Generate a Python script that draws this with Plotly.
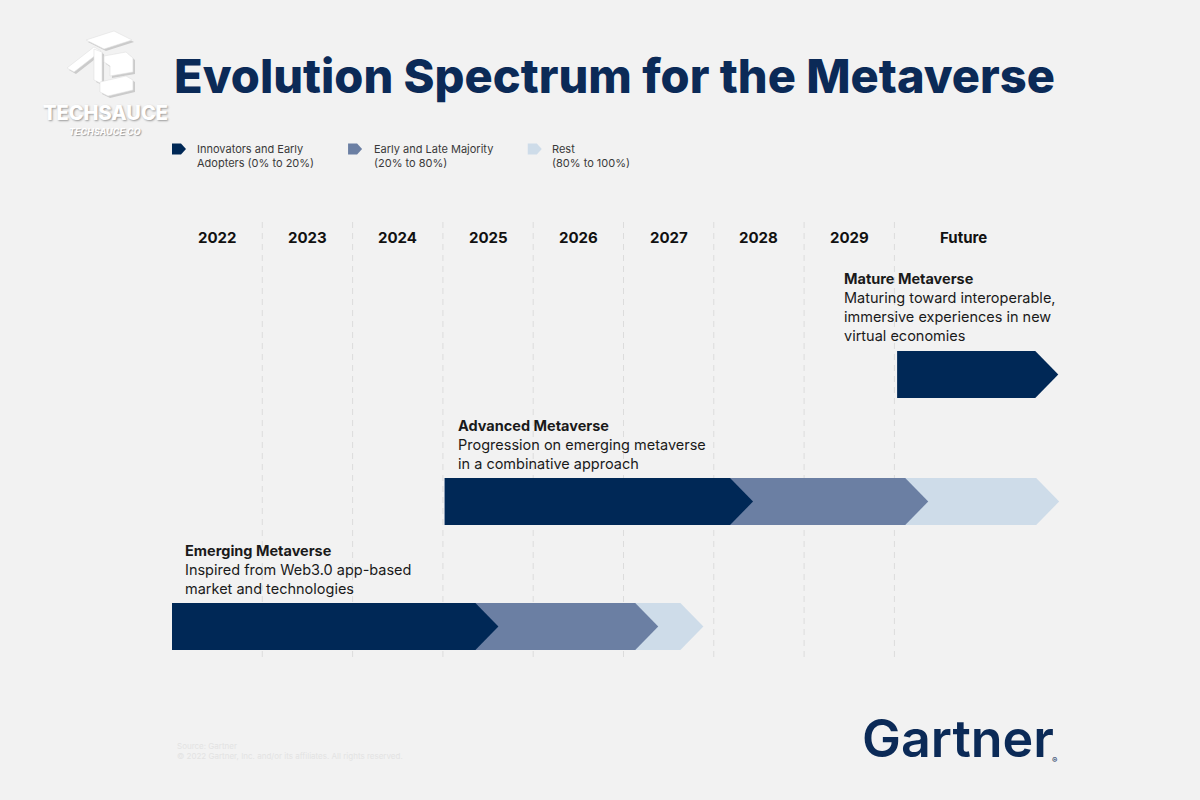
import plotly.graph_objects as go

# ---------------- data ----------------
year_labels = ["2022", "2023", "2024", "2025", "2026", "2027", "2028", "2029", "Future"]
year_centers = [2022.5, 2023.5, 2024.5, 2025.5, 2026.5, 2027.5, 2028.5, 2029.5, 2030.77]
divider_years = [2023, 2024, 2025, 2026, 2027, 2028, 2029, 2030]

stage_names = ["Emerging Metaverse", "Advanced Metaverse", "Mature Metaverse"]
stage_desc = [
    ["Inspired from Web3.0 app-based", "market and technologies"],
    ["Progression on emerging metaverse", "in a combinative approach"],
    ["Maturing toward interoperable,", "immersive experiences in new", "virtual economies"],
]
stage_start = [2022.0, 2025.02, 2030.03]
innovators_end = [2025.36, 2028.18, 2031.56]
majority_end = [2027.13, 2030.12, None]
rest_end = [2027.63, 2031.57, None]

legend_labels = ["Innovators and Early<br>Adopters (0% to 20%)",
                 "Early and Late Majority<br>(20% to 80%)",
                 "Rest<br>(80% to 100%)"]

# ---------------- style / layout ----------------
BG = "#f2f2f2"
DARK = "#002856"
MID = "#6b7fa3"
LIGHT = "#cedce9"
seg_colors = [DARK, MID, LIGHT]

X0_PX, UNIT_PX = 172.0, 90.3          # px position of 2022 and px per year
X_RANGE = [2022 - X0_PX / UNIT_PX, 2022 + (1200 - X0_PX) / UNIT_PX]
row_y = [626.5, 501.5, 374.5]           # vertical centre of each stage row
BAR_H = 47
TIP = 23 / UNIT_PX
text_pos = [(2022.12, 569.5), (2025.145, 444), (2029.42, 306.5)]
FONT = "Inter"


def chevron(x0, x1, yc, h, tip):
    xs = [x0, x1, x1 + tip, x1, x0, x0]
    ys = [yc - h / 2, yc - h / 2, yc, yc + h / 2, yc + h / 2, yc - h / 2]
    return xs, ys


fig = go.Figure()

# dashed column dividers
for xv in divider_years:
    fig.add_trace(go.Scatter(x=[xv, xv], y=[222, 662], mode="lines",
                             line=dict(color="#dcdcdc", width=1, dash="6px,5px"),
                             hoverinfo="skip", showlegend=False))

# stage chevrons (light at back, dark on top)
for i in range(3):
    ends = [innovators_end[i], majority_end[i], rest_end[i]]
    for k in (2, 1, 0):
        if ends[k] is None:
            continue
        xs, ys = chevron(stage_start[i], ends[k], row_y[i], BAR_H, TIP)
        fig.add_trace(go.Scatter(x=xs, y=ys, mode="lines", fill="toself",
                                 fillcolor=seg_colors[k], line=dict(width=0, color=seg_colors[k]),
                                 hoverinfo="skip", showlegend=False))

# legend icons
legend_icon_x = [2022.0, 2023.95, 2025.94]
legend_text_x = [2022.26, 2024.22, 2026.19]
for k in range(3):
    xs, ys = chevron(legend_icon_x[k], legend_icon_x[k] + 9 / UNIT_PX, 149, 11, 5 / UNIT_PX)
    fig.add_trace(go.Scatter(x=xs, y=ys, mode="lines", fill="toself",
                             fillcolor=seg_colors[k], line=dict(width=0, color=seg_colors[k]),
                             hoverinfo="skip", showlegend=False))
    fig.add_annotation(x=legend_text_x[k], y=156, xref="x", yref="y", text=legend_labels[k],
                       showarrow=False, xanchor="left", yanchor="middle", align="left",
                       font=dict(family=FONT, size=11, color="#3a3a3a"))

# year headers
for lab, xc in zip(year_labels, year_centers):
    fig.add_annotation(x=xc, y=237, xref="x", yref="y", text=lab, showarrow=False,
                       xanchor="center", yanchor="middle",
                       font=dict(family=FONT, size=15, color="#111111", weight=700))

# stage texts
for i in range(3):
    txt = "<b>" + stage_names[i] + "</b><br>" + "<br>".join(stage_desc[i])
    fig.add_annotation(x=text_pos[i][0], y=text_pos[i][1], xref="x", yref="y", text=txt,
                       showarrow=False, xanchor="left", yanchor="middle", align="left",
                       font=dict(family=FONT, size=14.5, color="#1a1a1a"))

# title
fig.add_annotation(x=2022.0, y=75, xref="x", yref="y", text="Evolution Spectrum for the Metaverse",
                   showarrow=False, xanchor="left", yanchor="middle",
                   font=dict(family=FONT, size=47, color="#0b2a57", weight=800))

# Gartner logo text
fig.add_annotation(x=860 / 1200, y=1 - 738 / 800, xref="paper", yref="paper", text="Gartner",
                   showarrow=False, xanchor="left", yanchor="middle",
                   font=dict(family=FONT, size=52, color="#0b2a57", weight=600))
fig.add_annotation(x=1050 / 1200, y=1 - 760 / 800, xref="paper", yref="paper", text="®",
                   showarrow=False, xanchor="left", yanchor="middle",
                   font=dict(family=FONT, size=8, color="#0b2a57"))

# faint footnote
fig.add_annotation(x=175 / 1200, y=1 - 751 / 800, xref="paper", yref="paper",
                   text="Source: Gartner<br>© 2022 Gartner, Inc. and/or its affiliates. All rights reserved.",
                   showarrow=False, xanchor="left", yanchor="middle", align="left",
                   font=dict(family=FONT, size=8, color="#e3e3e3"))

# Techsauce watermark (isometric "TS" glyph, approximated)
def P(x, y):
    return x / 1200, 1 - y / 800

logo_polys = [
    [(86, 40), (114, 31), (132, 40), (104, 49)],     # top slab
    [(67, 68), (94, 47), (101, 51), (74, 72)],       # left diagonal stroke
    [(94, 49), (102, 52), (102, 84), (94, 80)],      # stem
    [(104, 56), (126, 52), (133, 58), (133, 72), (110, 76), (110, 66), (104, 62)],  # upper S block
    [(100, 82), (126, 76), (133, 80), (133, 90), (108, 96), (100, 92)],             # lower S block
]
for poly in logo_polys:
    pts = " L ".join(f"{P(x + 2, y + 2)[0]:.4f},{P(x + 2, y + 2)[1]:.4f}" for x, y in poly)
    fig.add_shape(type="path", path="M " + pts + " Z", xref="paper", yref="paper",
                  fillcolor="#cbcbcb", line=dict(width=0), layer="above")
for poly in logo_polys:
    pts = " L ".join(f"{P(x, y)[0]:.4f},{P(x, y)[1]:.4f}" for x, y in poly)
    fig.add_shape(type="path", path="M " + pts + " Z", xref="paper", yref="paper",
                  fillcolor="#ffffff", line=dict(width=0.6, color="#e0e0e0"), layer="above")

fig.add_annotation(x=105 / 1200, y=1 - 113 / 800, xref="paper", yref="paper", text="TECHSAUCE",
                   showarrow=False, xanchor="center", yanchor="middle",
                   font=dict(family=FONT, size=20, color="#ffffff", weight=800,
                             shadow="1px 1px 2px #9a9a9a"))
fig.add_annotation(x=105 / 1200, y=1 - 131 / 800, xref="paper", yref="paper", text="TECHSAUCE CO",
                   showarrow=False, xanchor="center", yanchor="middle",
                   font=dict(family=FONT, size=9, color="#ffffff", weight=700, style="italic",
                             shadow="1px 1px 1px #9a9a9a"))

fig.update_layout(
    width=1200, height=800,
    margin=dict(l=0, r=0, t=0, b=0),
    paper_bgcolor=BG, plot_bgcolor=BG,
    xaxis=dict(range=X_RANGE, visible=False, fixedrange=True),
    yaxis=dict(range=[800, 0], visible=False, fixedrange=True),
    showlegend=False,
)

fig.write_html("out.html", config={"displayModeBar": False},
               post_script="document.body.style.margin='0';document.body.style.background='#f2f2f2';")
